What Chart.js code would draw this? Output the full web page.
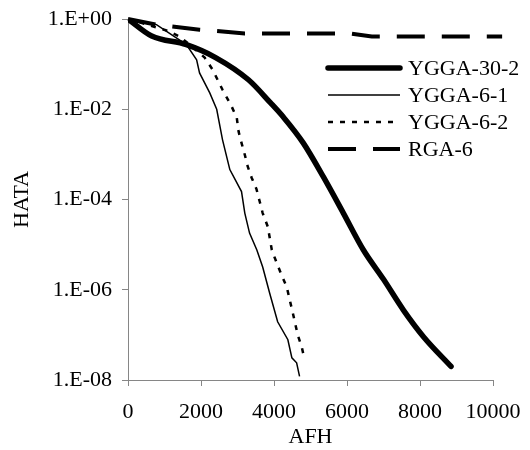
<!DOCTYPE html>
<html>
<head>
<meta charset="utf-8">
<script src="https://cdn.jsdelivr.net/npm/chart.js@4.4.1/dist/chart.umd.min.js"></script>
<style>
  html, body { margin: 0; padding: 0; background: #fff; }
</style>
</head>
<body>
<canvas id="chart" width="530" height="450"></canvas>
<script>
// Survival curves (x = AFH, y = HATA, log scale)
const ygga302X = [0, 650, 1600, 2400, 3300, 3900, 4250, 4800, 5350, 5900, 6450, 7000, 7550, 8100, 8850];
const ygga302Y = [1, 0.42, 0.27, 0.14, 0.045, 0.014, 0.0068, 0.0018, 3.2e-4, 5e-5, 7.6e-6, 1.7e-6, 3.5e-7, 9e-8, 2.0e-8];

const ygga61X = [0, 780, 1600, 1880, 1960, 2240, 2430, 2590, 2790, 3110, 3200, 3330, 3530, 3690, 3880, 4100, 4380, 4490, 4620, 4700];
const ygga61Y = [1, 0.75, 0.27, 0.125, 0.064, 0.023, 0.010, 0.0021, 4.6e-4, 1.5e-4, 5.0e-5, 1.8e-5, 7.6e-6, 3.2e-6, 8.5e-7, 1.95e-7, 7.8e-8, 3.1e-8, 2.4e-8, 1.2e-8];

const ygga62X = [0, 1080, 1410, 1690, 2100, 2320, 2590, 2840, 2980, 3030, 3110, 3200, 3280, 3390, 3520, 3610, 3690, 3830, 3940, 4070, 4210, 4350, 4430, 4510, 4650, 4760, 4840];
const ygga62Y = [1, 0.55, 0.41, 0.27, 0.14, 0.075, 0.027, 0.0115, 0.0065, 0.0032, 0.0018, 9.8e-4, 5.4e-4, 3.0e-4, 1.7e-4, 8.9e-5, 5.0e-5, 2.5e-5, 7.6e-6, 4.0e-6, 2.1e-6, 1.15e-6, 6.0e-7, 3.2e-7, 1.0e-7, 5.4e-8, 2.8e-8];

const rga6X = [0, 780, 1960, 3200, 6080, 6680, 10250];
const rga6Y = [1, 0.75, 0.58, 0.48, 0.48, 0.41, 0.41];

const xTicks = [0, 2000, 4000, 6000, 8000, 10000];
const yTicks = [1e-8, 1e-6, 1e-4, 1e-2, 1];

const FONT = "'Liberation Serif', 'Times New Roman', serif";
const AXIS_GREY = '#868686';

function toPoints(xs, ys) {
    return xs.map((x, i) => ({ x: x, y: ys[i] }));
}

// 1 -> "1.E+00", 0.01 -> "1.E-02"
function sciLabel(v) {
    const exp = Math.round(Math.log10(v));
    const sign = exp < 0 ? '-' : '+';
    return '1.E' + sign + String(Math.abs(exp)).padStart(2, '0');
}

// Legend drawn inside the plot area, to the right
const insideLegend = {
    id: 'insideLegend',
    afterDraw(chart) {
        const ctx = chart.ctx;
        const area = chart.chartArea;
        const x0 = area.right - 165;
        const x1 = x0 + 72;
        let y = area.top + 49;
        ctx.save();
        ctx.font = '22px ' + FONT;
        ctx.textBaseline = 'middle';
        ctx.fillStyle = '#000';
        chart.data.datasets.forEach(ds => {
            ctx.beginPath();
            ctx.strokeStyle = ds.borderColor;
            ctx.lineWidth = ds.borderWidth;
            ctx.lineCap = ds.borderCapStyle || 'butt';
            ctx.setLineDash(ds.borderDash || []);
            ctx.moveTo(x0, y);
            ctx.lineTo(x1, y);
            ctx.stroke();
            ctx.setLineDash([]);
            ctx.fillText(ds.label, x1 + 8, y + 1);
            y += 27;
        });
        ctx.restore();
    }
};

const ctx = document.getElementById('chart').getContext('2d');

new Chart(ctx, {
    type: 'line',
    data: {
        datasets: [
            {
                label: 'YGGA-30-2',
                data: toPoints(ygga302X, ygga302Y),
                borderColor: '#000',
                borderWidth: 5.5,
                borderCapStyle: 'round',
                borderJoinStyle: 'round',
                cubicInterpolationMode: 'monotone',
                pointRadius: 0
            },
            {
                label: 'YGGA-6-1',
                data: toPoints(ygga61X, ygga61Y),
                borderColor: '#000',
                borderWidth: 1.5,
                tension: 0,
                pointRadius: 0
            },
            {
                label: 'YGGA-6-2',
                data: toPoints(ygga62X, ygga62Y),
                borderColor: '#000',
                borderWidth: 2.5,
                borderDash: [5, 7],
                tension: 0,
                pointRadius: 0
            },
            {
                label: 'RGA-6',
                data: toPoints(rga6X, rga6Y),
                borderColor: '#000',
                borderWidth: 4,
                borderDash: [28, 17],
                tension: 0,
                pointRadius: 0,
                clip: false
            }
        ]
    },
    options: {
        responsive: false,
        animation: false,
        layout: {
            padding: { top: 19, right: 37, left: 0, bottom: 0 }
        },
        plugins: {
            legend: { display: false },
            tooltip: { enabled: false }
        },
        scales: {
            x: {
                type: 'linear',
                min: 0,
                max: 10000,
                afterBuildTicks: axis => {
                    axis.ticks = xTicks.map(v => ({ value: v }));
                },
                afterFit: scale => {
                    scale.height = 70;
                    scale.paddingLeft = 0;
                    scale.paddingRight = 0;
                },
                grid: {
                    drawOnChartArea: false,
                    drawTicks: true,
                    tickLength: 6,
                    tickColor: AXIS_GREY
                },
                border: { display: true, color: AXIS_GREY, width: 1 },
                ticks: {
                    color: '#000',
                    font: { family: FONT, size: 22 },
                    padding: 13,
                    maxRotation: 0,
                    autoSkip: false,
                    callback: v => String(v)
                },
                title: {
                    display: true,
                    text: 'AFH',
                    color: '#000',
                    font: { family: FONT, size: 22 },
                    padding: { top: 0, bottom: 0 }
                }
            },
            y: {
                type: 'logarithmic',
                min: 1e-8,
                max: 1,
                afterBuildTicks: axis => {
                    axis.ticks = yTicks.map(v => ({ value: v }));
                },
                afterFit: scale => {
                    scale.width = 128;
                    scale.paddingTop = 0;
                    scale.paddingBottom = 0;
                },
                grid: {
                    drawOnChartArea: false,
                    drawTicks: true,
                    tickLength: 6,
                    tickColor: AXIS_GREY
                },
                border: { display: true, color: AXIS_GREY, width: 1 },
                ticks: {
                    color: '#000',
                    font: { family: FONT, size: 22 },
                    padding: 10,
                    autoSkip: false,
                    callback: v => sciLabel(v)
                },
                title: {
                    display: true,
                    text: 'HATA',
                    color: '#000',
                    font: { family: FONT, size: 22 },
                    padding: { top: 9, bottom: 0 }
                }
            }
        }
    },
    plugins: [insideLegend]
});
</script>
</body>
</html>
